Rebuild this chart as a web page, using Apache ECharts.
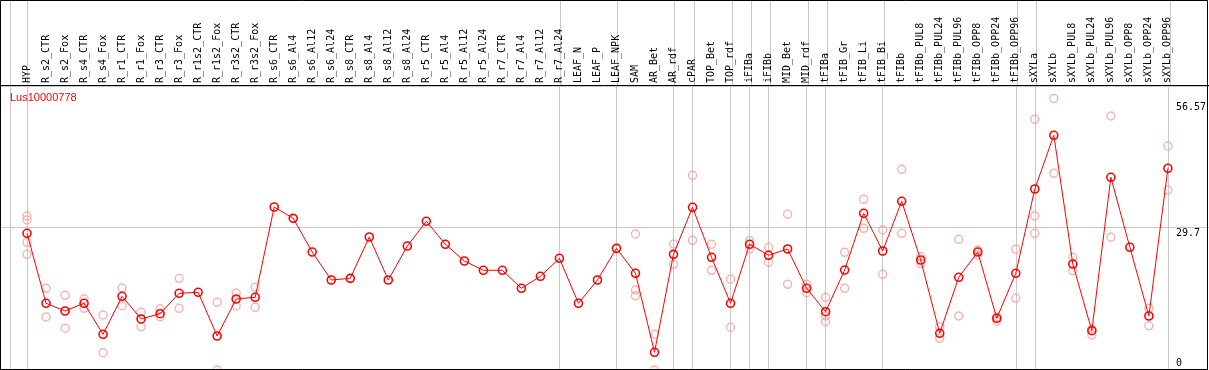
<!DOCTYPE html>
<html><head><meta charset="utf-8">
<script src="https://cdn.jsdelivr.net/npm/echarts@6/dist/echarts.min.js"></script>
<style>html,body{margin:0;padding:0;background:#fff}#c{width:1209px;height:370px}</style>
</head><body><div id="c"></div>
<script>
const geneName = 'Lus10000778';
const categories = ['HYP','R_s2_CTR','R_s2_Fox','R_s4_CTR','R_s4_Fox','R_r1_CTR','R_r1_Fox','R_r3_CTR','R_r3_Fox','R_r1s2_CTR','R_r1s2_Fox','R_r3s2_CTR','R_r3s2_Fox','R_s6_CTR','R_s6_Al4','R_s6_Al12','R_s6_Al24','R_s8_CTR','R_s8_Al4','R_s8_Al12','R_s8_Al24','R_r5_CTR','R_r5_Al4','R_r5_Al12','R_r5_Al24','R_r7_CTR','R_r7_Al4','R_r7_Al12','R_r7_Al24','LEAF_N','LEAF_P','LEAF_NPK','SAM','AR_Bet','AR_rdf','cPAR','TOP_Bet','TOP_rdf','iFIBa','iFIBb','MID_Bet','MID_rdf','tFIBa','tFIB_Gr','tFIB_Li','tFIB_Bi','tFIBb','tFIBb_PUL8','tFIBb_PUL24','tFIBb_PUL96','tFIBb_OPP8','tFIBb_OPP24','tFIBb_OPP96','sXYLa','sXYLb','sXYLb_PUL8','sXYLb_PUL24','sXYLb_PUL96','sXYLb_OPP8','sXYLb_OPP24','sXYLb_OPP96'];
const means = [28.48,13.90,12.29,13.90,7.44,15.35,10.63,11.73,15.98,16.19,7.08,14.79,15.15,33.96,31.60,24.58,18.75,19.10,27.71,18.75,25.83,30.98,26.19,22.71,20.77,20.77,17.02,19.52,23.27,13.90,18.75,25.35,20.15,3.69,24.10,33.90,23.48,13.90,26.19,23.90,25.21,17.02,12.15,20.83,32.65,24.79,35.15,22.92,7.65,19.31,24.58,10.77,20.15,37.71,48.90,22.08,8.19,40.15,25.56,11.25,42.02];
const replicates = [
  [32.08,31.25,26.60,24.10],[17.02,11.04],[15.56,8.69],[14.85,12.85],[11.46,3.60],[17.08,13.40],[12.02,9.02],[12.77,11.10],[19.10,12.85],[],[14.10,0],[16.04,13.33],[17.23,13.06],
  [],[],[],[],[],[],[],[],[],[],[],[],[],[],[],[],[],[],[],
  [28.33,16.67,15.48],[7.44,0],[26.25,22.02],[40.56,27.02],[26.19,20.77],[18.90,8.90],[26.94,25.21],[25.56,22.44],[32.44,17.85],[17.85,16.10],[15.15,11.25,10.06],[24.52,17.02],[35.56,29.52],[29.17,19.94],[41.81,28.48],[23.60,22.23],[9.02,6.60],[27.23,11.25],[25.00,23.96],[11.10,10.21],[25.21,14.94],[52.23,32.08,28.48],[56.57,40.98],[23.48,20.69],[8.48,7.29],[52.92,27.65],[],[12.85,9.23],[46.67,37.50]
];
const groupEnds = ['HYP','R_r7_Al24','LEAF_NPK','AR_rdf','cPAR','TOP_rdf','iFIBa','iFIBb','MID_rdf','tFIBa','tFIB_Bi','tFIBb_OPP96','sXYLa','sXYLb_OPP96'];
const yTickLabels = [29.7, 56.57];
const yZeroLabel = [0];

const Y_MAX = 59.17;
const GREY = '#c8c8c8';
const MONO = '"DejaVu Sans Mono", monospace';

const repData = [];
replicates.forEach((arr, i) => arr.forEach(v => repData.push([categories[i], v])));

const sepFn = (idx, val) => groupEnds.indexOf(categories[idx]) >= 0;
const topMax = Math.max.apply(null, yTickLabels);

const chart = echarts.init(document.getElementById('c'), null, {renderer: 'canvas'});
chart.setOption({
  animation: false,
  backgroundColor: '#fff',
  title: {text: geneName, left: 10, top: 92, padding: 0,
    textStyle: {color: '#ff0000', fontSize: 11, fontWeight: 'normal', fontFamily: '"Liberation Sans", Arial, sans-serif'}},
  grid: [
    {left: 27, right: 39, top: 0, height: 86},
    {left: 27, right: 39, top: 86, bottom: 0},
    {left: 0, right: 0, top: 86, bottom: 0}
  ],
  xAxis: [
    {gridIndex: 0, type: 'category', data: categories, boundaryGap: false,
     axisLine: {show: false}, axisTick: {show: false}, axisLabel: {show: false},
     splitLine: {show: true, interval: sepFn, lineStyle: {color: GREY, width: 1}}},
    {gridIndex: 1, type: 'category', data: categories, boundaryGap: false, position: 'top',
     axisLine: {show: false}, axisTick: {show: false},
     axisLabel: {interval: 0, rotate: 90, margin: 3, color: '#000', fontSize: 10, fontFamily: MONO,
       padding: [0, 0, 4, 0]},
     splitLine: {show: true, interval: sepFn, lineStyle: {color: GREY, width: 1}}},
    {gridIndex: 2, type: 'value', min: 0, max: 1, show: false}
  ],
  yAxis: [
    {gridIndex: 0, type: 'value', show: false},
    {gridIndex: 1, type: 'value', min: 0, max: Y_MAX, position: 'right',
     axisLine: {show: false}, axisTick: {show: false}, splitLine: {show: false},
     axisLabel: {customValues: yTickLabels, margin: 8, color: '#000', fontSize: 10, fontFamily: MONO, verticalAlign: 'top',
       formatter: v => (v === topMax ? '{t|' + v + '}' : '{n|' + v + '}'),
       rich: {t: {fontSize: 10, fontFamily: MONO, color: '#000', padding: [4, 0, 0, 0]},
              n: {fontSize: 10, fontFamily: MONO, color: '#000', padding: [1, 0, 0, 0]}}}},
    {gridIndex: 1, type: 'value', min: 0, max: Y_MAX, position: 'right',
     axisLine: {show: false}, axisTick: {show: false}, splitLine: {show: false},
     axisLabel: {customValues: yZeroLabel, margin: 8, color: '#000', fontSize: 10, fontFamily: MONO, verticalAlign: 'bottom',
       padding: [0, 0, 2, 0], formatter: v => String(v)}},
    {gridIndex: 2, type: 'value', min: 0, max: Y_MAX, interval: 29.7,
     axisLine: {show: false}, axisTick: {show: false}, axisLabel: {show: false},
     splitLine: {show: true, lineStyle: {color: GREY, width: 1}}}
  ],
  graphic: [
    {type: 'rect', silent: true, z: 100, shape: {x: 0.5, y: 0.5, width: 1207, height: 369},
     style: {fill: null, stroke: '#000', lineWidth: 1}},
    {type: 'line', silent: true, z: 100, shape: {x1: 0, y1: 85.5, x2: 1209, y2: 85.5},
     style: {stroke: '#000', lineWidth: 1}},
    {type: 'line', silent: true, z: 1, shape: {x1: 10.5, y1: 0, x2: 10.5, y2: 370},
     style: {stroke: GREY, lineWidth: 1}}
  ],
  series: [
    {type: 'scatter', xAxisIndex: 1, yAxisIndex: 1, data: repData, symbol: 'circle', symbolSize: 8, z: 2,
     itemStyle: {color: 'rgba(0,0,0,0)', borderColor: '#f0a0a0', borderWidth: 1.4}},
    {type: 'line', xAxisIndex: 1, yAxisIndex: 1, data: means, symbol: 'circle', symbolSize: 8, z: 3,
     showAllSymbol: true,
     lineStyle: {color: '#ff0000', width: 1},
     itemStyle: {color: 'rgba(0,0,0,0)', borderColor: '#ff0000', borderWidth: 1.6}}
  ]
});
</script></body></html>
